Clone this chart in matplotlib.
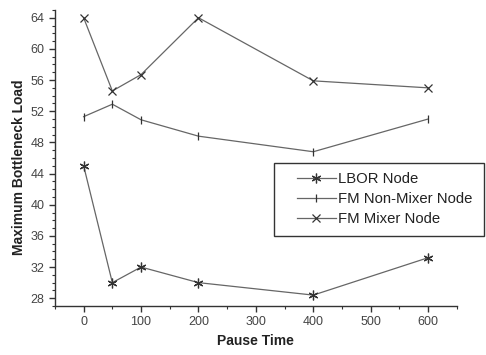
import matplotlib
matplotlib.use('Agg')
import matplotlib.pyplot as plt
from matplotlib.patches import Rectangle
from matplotlib.ticker import MultipleLocator

plt.rcParams['font.family'] = ['Liberation Sans', 'DejaVu Sans']

# Pause time values and the three node series
pause_time = [0, 50, 100, 200, 400, 600]
lbor_node = [45.0, 30.0, 32.0, 30.0, 28.4, 33.2]
fm_non_mixer = [51.3, 52.9, 50.9, 48.8, 46.8, 51.0]
fm_mixer = [64.0, 54.6, 56.7, 64.0, 55.9, 55.0]

line_color = '#666666'
mark_color = '#333333'

fig = plt.figure(figsize=(4.86, 3.55), dpi=100)
ax = fig.add_axes([0.113, 0.138, 0.827, 0.834])

ax.plot(pause_time, lbor_node, color=line_color, lw=0.9,
        marker=(6, 2, 0), ms=7, mew=0.9, mec=mark_color, label='LBOR Node')
ax.plot(pause_time, fm_non_mixer, color=line_color, lw=0.9,
        marker='|', ms=5.5, mew=0.9, mec=mark_color,
        label='FM Non-Mixer Node')
ax.plot(pause_time, fm_mixer, color=line_color, lw=0.9,
        marker='x', ms=6, mew=0.9, mec=mark_color, label='FM Mixer Node')

ax.set_xlim(-50, 650)
ax.set_ylim(27, 65)
ax.xaxis.set_major_locator(MultipleLocator(100))
ax.xaxis.set_minor_locator(MultipleLocator(50))
ax.yaxis.set_major_locator(MultipleLocator(4))
ax.yaxis.set_minor_locator(MultipleLocator(1))

for side in ['top', 'right']:
    ax.spines[side].set_visible(False)
for side in ['left', 'bottom']:
    ax.spines[side].set_color('#333333')
    ax.spines[side].set_linewidth(1.0)

ax.tick_params(which='major', direction='out', length=4, width=1.0,
               color='#333333', labelsize=9, labelcolor='#444444')
ax.tick_params(which='minor', direction='out', length=2.5, width=0.8,
               color='#333333')

ax.set_xlabel('Pause Time', fontsize=10, fontweight='bold', color='#222222')
ax.set_ylabel('Maximum Bottleneck Load', fontsize=10, fontweight='bold',
              color='#222222')
ax.yaxis.set_label_coords(-0.072, 0.47)

# legend entries without their own frame, box drawn separately so it can
# run past the right end of the axes with extra room on the left
leg = fig.legend(loc='upper left', bbox_to_anchor=(0.611, 0.516),
                 fontsize=10.7, frameon=False,
                 handlelength=2.63, handletextpad=0.15, borderpad=0,
                 labelspacing=0.4, borderaxespad=0)
for t in leg.get_texts():
    t.set_color('#222222')
fig.patches.append(Rectangle((0.564, 0.335), 0.432, 0.206,
                             transform=fig.transFigure, fill=False,
                             edgecolor='#333333', linewidth=1.0))

fig.savefig('out.png', dpi=100)
